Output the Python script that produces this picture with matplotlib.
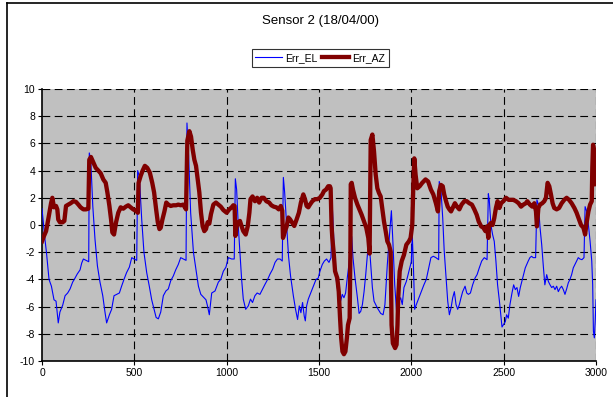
import matplotlib
matplotlib.use("Agg")
import matplotlib.pyplot as plt
from matplotlib.lines import Line2D

plt.rcParams["font.family"] = ["Liberation Sans", "DejaVu Sans"]

TITLE = "Sensor 2 (18/04/00)"

# Err_EL (thin blue)
el_x = [0, 16, 24, 38, 51, 65, 76, 88, 97, 112, 125, 139, 152, 166, 179, 191, 206, 215, 224, 238,
        253, 256, 264, 275, 287, 300, 314, 329, 341, 350, 365, 377, 390, 404, 419, 431, 444, 458, 473, 486,
        498, 513, 518, 527, 540, 552, 567, 581, 594, 607, 618, 630, 643, 657, 671, 684, 697, 711, 724, 738,
        751, 765, 780, 785, 794, 805, 820, 834, 847, 860, 874, 888, 897, 906, 919, 937, 955, 968, 982, 996,
        1009, 1027, 1041, 1047, 1054, 1063, 1072, 1081, 1090, 1103, 1117, 1129, 1140, 1153, 1165, 1180, 1195, 1208, 1222, 1235,
        1249, 1262, 1275, 1289, 1301, 1307, 1314, 1325, 1335, 1346, 1361, 1373, 1384, 1393, 1402, 1411, 1420, 1426, 1433, 1442,
        1455, 1469, 1484, 1496, 1505, 1518, 1529, 1541, 1554, 1565, 1572, 1579, 1587, 1599, 1608, 1617, 1626, 1635, 1644, 1653,
        1662, 1677, 1684, 1695, 1708, 1717, 1726, 1735, 1744, 1753, 1762, 1770, 1778, 1789, 1798, 1816, 1834, 1847, 1857, 1870,
        1883, 1892, 1900, 1910, 1920, 1933, 1942, 1951, 1960, 1973, 1987, 2000, 2005, 2011, 2018, 2027, 2041, 2054, 2068, 2081,
        2094, 2106, 2119, 2133, 2148, 2151, 2160, 2170, 2178, 2188, 2197, 2206, 2215, 2224, 2233, 2242, 2251, 2260, 2269, 2278,
        2291, 2300, 2309, 2320, 2332, 2345, 2356, 2368, 2381, 2395, 2410, 2417, 2422, 2431, 2440, 2449, 2458, 2467, 2477, 2486,
        2491, 2500, 2509, 2516, 2525, 2534, 2545, 2554, 2563, 2572, 2581, 2590, 2603, 2617, 2633, 2642, 2651, 2660, 2673, 2680,
        2688, 2697, 2706, 2714, 2723, 2733, 2742, 2751, 2760, 2769, 2778, 2787, 2796, 2805, 2814, 2823, 2832, 2841, 2850, 2859,
        2868, 2877, 2886, 2895, 2904, 2913, 2924, 2935, 2941, 2950, 2959, 2968, 2977, 2982, 2986, 2991, 2996, 3000]
el_y = [1.2, -1.05, -2.0, -4.0, -4.5, -5.5, -5.6, -7.2, -6.4, -5.9, -5.2, -5.0, -4.7, -4.2, -3.9, -3.6, -3.3, -2.8, -2.5, -2.6,
        -2.7, 5.3, 4.8, 1.4, -1.05, -3.0, -4.2, -5.2, -6.4, -7.2, -6.6, -6.2, -5.2, -5.1, -5.0, -4.5, -4.0, -3.5, -3.1, -2.4,
        -2.5, -2.6, 4.0, 3.6, 0.4, -2.0, -3.5, -4.5, -5.5, -6.2, -6.8, -6.9, -6.4, -5.2, -4.85, -4.7, -4.1, -3.75, -3.3, -2.9,
        -2.4, -2.5, -2.6, 7.5, 5.1, 0.9, -2.0, -3.3, -4.5, -5.1, -5.3, -5.5, -6.0, -6.6, -5.0, -4.85, -4.2, -4.0, -3.4, -3.1,
        -2.4, -2.5, -2.5, 3.4, 2.6, -0.1, -2.0, -4.0, -5.45, -6.2, -5.95, -5.45, -5.7, -5.2, -5.0, -5.1, -4.7, -4.35, -4.0, -3.6,
        -3.25, -2.75, -2.5, -2.5, -2.65, 3.5, 2.4, -0.1, -2.3, -3.75, -5.2, -6.2, -6.95, -5.95, -6.45, -5.7, -6.7, -7.05, -5.95, -5.45,
        -5.0, -4.5, -4.0, -3.9, -3.4, -2.9, -2.65, -2.5, -2.75, -2.4, 1.35, -0.7, -3.4, -4.6, -5.35, -5.6, -5.1, -5.35, -5.0, -3.9,
        -2.9, -0.85, -2.4, -3.9, -5.35, -6.5, -6.35, -5.85, -4.9, -3.65, -2.2, -1.2, -2.5, -4.6, -5.6, -6.1, -6.5, -6.6, -5.85, -2.9,
        -0.5, 1.05, -1.2, -4.4, -6.35, -5.6, -5.35, -5.85, -4.6, -4.15, -3.4, -2.7, -0.7, -2.9, -6.2, -5.85, -5.35, -4.9, -4.4, -4.0,
        -3.15, -2.4, -2.3, -2.4, -2.55, 3.2, 2.7, 0.5, -1.9, -3.9, -5.6, -6.6, -6.1, -5.35, -4.9, -5.85, -6.2, -5.85, -5.35, -4.9,
        -4.5, -5.0, -5.1, -5.0, -4.4, -3.9, -3.65, -3.15, -2.65, -2.4, -2.55, 2.3, 1.85, 0.0, -0.7, -1.2, -2.65, -4.4, -5.6, -6.85,
        -7.5, -7.3, -7.1, -6.6, -6.85, -5.85, -5.0, -4.4, -4.75, -4.6, -5.25, -4.6, -3.9, -3.15, -2.65, -2.4, -2.3, -2.4, -2.4, 1.85,
        1.5, -0.2, -1.45, -2.9, -4.4, -3.65, -4.15, -4.4, -4.6, -4.5, -4.75, -4.5, -4.9, -4.65, -4.5, -4.75, -5.1, -4.7, -4.25, -4.0,
        -3.65, -3.15, -2.9, -2.65, -2.4, -2.5, -2.55, -2.4, 1.35, 1.0, 0.0, -1.2, -2.65, -4.4, -7.8, -8.3, -7.0, -5.5]

# Err_AZ (thick dark red)
az_x = [0, 11, 22, 31, 40, 49, 56, 65, 76, 83, 88, 97, 112, 121, 130, 143, 155, 170, 184, 197,
        209, 224, 238, 251, 256, 265, 278, 291, 305, 318, 332, 345, 354, 365, 374, 381, 390, 401, 413, 426,
        440, 454, 467, 480, 494, 508, 519, 523, 534, 545, 557, 570, 584, 597, 607, 618, 627, 636, 643, 652,
        663, 673, 684, 697, 711, 726, 738, 751, 765, 780, 787, 798, 807, 816, 825, 834, 843, 852, 861, 870,
        879, 888, 897, 906, 915, 928, 942, 955, 968, 982, 1000, 1014, 1027, 1036, 1043, 1047, 1054, 1063, 1072, 1081,
        1090, 1103, 1114, 1123, 1129, 1140, 1153, 1165, 1176, 1189, 1201, 1215, 1230, 1242, 1255, 1269, 1282, 1293, 1301, 1305,
        1316, 1325, 1334, 1343, 1355, 1366, 1379, 1391, 1402, 1415, 1424, 1433, 1442, 1451, 1464, 1478, 1491, 1505, 1518, 1527,
        1538, 1550, 1559, 1563, 1568, 1572, 1579, 1587, 1599, 1607, 1614, 1620, 1627, 1635, 1643, 1651, 1657, 1666, 1670, 1672,
        1677, 1684, 1695, 1708, 1720, 1731, 1744, 1756, 1767, 1774, 1778, 1780, 1789, 1798, 1807, 1816, 1825, 1834, 1843, 1852,
        1861, 1870, 1879, 1888, 1893, 1900, 1912, 1920, 1925, 1929, 1937, 1948, 1960, 1973, 1987, 1996, 2005, 2011, 2016, 2023,
        2032, 2045, 2059, 2077, 2091, 2106, 2119, 2133, 2144, 2151, 2160, 2170, 2178, 2188, 2197, 2206, 2215, 2224, 2236, 2247,
        2260, 2272, 2287, 2300, 2314, 2328, 2341, 2354, 2365, 2378, 2390, 2401, 2410, 2417, 2422, 2431, 2440, 2449, 2458, 2467,
        2477, 2486, 2498, 2513, 2527, 2540, 2552, 2567, 2581, 2594, 2607, 2620, 2628, 2642, 2655, 2666, 2675, 2680, 2688, 2697,
        2709, 2720, 2729, 2738, 2747, 2756, 2765, 2774, 2787, 2800, 2814, 2828, 2841, 2854, 2868, 2883, 2895, 2908, 2919, 2932,
        2941, 2950, 2959, 2968, 2977, 2980, 2984, 2991, 2998, 3000]
az_y = [-1.2, -0.8, -0.45, 0.2, 0.9, 1.6, 2.0, 1.3, 1.4, 1.15, 0.4, 0.2, 0.2, 0.3, 1.4, 1.5, 1.6, 1.75, 1.7, 1.5,
        1.3, 1.15, 1.15, 1.2, 4.8, 5.0, 4.6, 4.2, 4.0, 3.8, 3.35, 3.1, 2.4, 1.4, 0.4, -0.55, -0.7, 0.2, 0.9, 1.3,
        1.2, 1.35, 1.45, 1.3, 1.15, 1.05, 0.9, 3.1, 3.6, 4.0, 4.35, 4.2, 3.85, 3.1, 2.4, 1.15, 0.2, -0.3, -0.2, 0.4,
        1.0, 1.65, 1.5, 1.4, 1.45, 1.45, 1.5, 1.45, 1.5, 1.15, 6.2, 6.9, 6.5, 5.55, 4.8, 4.35, 3.35, 2.4, 0.9, -0.1,
        -0.45, -0.3, 0.2, 0.1, 0.8, 1.5, 1.65, 1.5, 1.35, 1.1, 0.9, 1.15, 1.3, 1.45, 1.4, -0.8, -0.1, 0.2, 0.3, -0.1,
        -0.45, -0.7, -0.1, 0.9, 1.9, 2.1, 1.75, 2.0, 1.65, 2.0, 2.0, 1.75, 1.65, 1.45, 1.35, 1.3, 1.15, 1.4, 1.05, -0.95,
        -0.45, -0.1, 0.55, 0.42, 0.17, -0.07, 0.42, 0.9, 1.65, 2.25, 1.9, 1.4, 1.3, 1.5, 1.75, 1.9, 1.9, 2.0, 2.25, 2.5,
        2.6, 2.85, 2.85, 2.7, 0.0, -0.95, -1.95, -3.4, -3.9, -4.9, -6.85, -8.3, -9.3, -9.5, -9.3, -8.3, -7.35, -6.85, -1.95, 3.0,
        3.1, 2.6, 2.0, 1.5, 1.1, 0.75, 0.25, -0.2, -0.95, -2.1, 3.0, 6.25, 6.65, 5.4, 3.7, 2.7, 2.35, 2.1, 1.15, 0.25,
        -0.45, -1.2, -1.45, -1.95, -7.35, -8.7, -9.05, -8.8, -7.35, -5.35, -3.4, -2.65, -2.2, -1.45, -1.2, -0.95, 0.0, 3.0, 4.9, 3.7,
        2.7, 2.85, 3.1, 3.35, 3.2, 2.6, 2.25, 1.6, 1.0, 2.5, 2.95, 2.85, 2.25, 1.75, 1.35, 1.15, 1.0, 1.25, 1.6, 1.35,
        1.15, 1.5, 1.75, 1.75, 1.6, 1.5, 1.15, 0.75, 0.25, -0.1, -0.2, -0.45, -0.1, -0.95, 0.0, 0.15, 0.0, 0.5, 1.25, 1.75,
        1.25, 1.6, 1.75, 2.0, 1.85, 1.85, 1.85, 1.75, 1.6, 1.35, 1.5, 1.6, 1.75, 1.5, 1.35, 1.6, 1.0, -0.1, 1.25, 1.5,
        1.6, 1.75, 2.0, 3.1, 2.85, 2.25, 1.6, 1.25, 1.15, 1.25, 1.6, 1.85, 2.0, 1.85, 1.6, 1.25, 0.9, 0.4, 0.0, -0.2,
        -0.7, 0.25, 1.0, 1.5, 1.75, 4.2, 5.9, 5.4, 4.2, 3.0]

x_ticks = [0, 500, 1000, 1500, 2000, 2500, 3000]
y_ticks = [-10, -8, -6, -4, -2, 0, 2, 4, 6, 8, 10]

W, H = 613, 397
fig = plt.figure(figsize=(W / 100, H / 100), dpi=100)
fig.patch.set_facecolor("white")

# outer chart frame (cropped on the right and bottom)
fig.add_artist(Line2D([7 / W, 7 / W], [0, 1 - 3 / H], color="black", lw=1.2,
                      transform=fig.transFigure))
fig.add_artist(Line2D([7 / W, 1], [1 - 3 / H, 1 - 3 / H], color="black", lw=1.2,
                      transform=fig.transFigure))

ax = fig.add_axes([42 / W, 1 - 361 / H, (596 - 42) / W, (361 - 89) / H])
ax.set_facecolor("#C0C0C0")

ax.plot(el_x, el_y, color="#0000FF", lw=0.8, label="Err_EL", zorder=3)
ax.plot(az_x, az_y, color="#800000", lw=3.1, label="Err_AZ", zorder=4,
        solid_joinstyle="round")

ax.set_xlim(0, 3000)
ax.set_ylim(-10, 10)
ax.set_xticks(x_ticks)
ax.set_yticks(y_ticks)
ax.set_xticklabels([str(v) for v in x_ticks], fontsize=7.5)
ax.set_yticklabels([str(v) for v in y_ticks], fontsize=7.5)

for v in x_ticks[1:]:
    ax.axvline(v, color="black", lw=0.8, ls=(0, (7, 4)), zorder=1)
for v in y_ticks[1:]:
    ax.axhline(v, color="black", lw=0.8, ls=(0, (7, 4)), zorder=1)

for side in ("top", "right"):
    ax.spines[side].set_visible(False)
for side in ("left", "bottom"):
    ax.spines[side].set_color("black")
    ax.spines[side].set_linewidth(1.2)
ax.tick_params(direction="out", length=3, width=0.8, pad=2)

fig.text(320 / W, 1 - 21 / H, TITLE, ha="center", va="center", fontsize=9.5)

leg = fig.legend(loc="center", bbox_to_anchor=(320 / W, 1 - 58 / H), ncol=2,
                 fontsize=7.5, frameon=True, fancybox=False, handlelength=2.6,
                 handletextpad=0.3, columnspacing=0.4, borderpad=0.35)
leg.get_frame().set_edgecolor("black")
leg.get_frame().set_linewidth(0.8)

fig.savefig("out.png", dpi=100)
